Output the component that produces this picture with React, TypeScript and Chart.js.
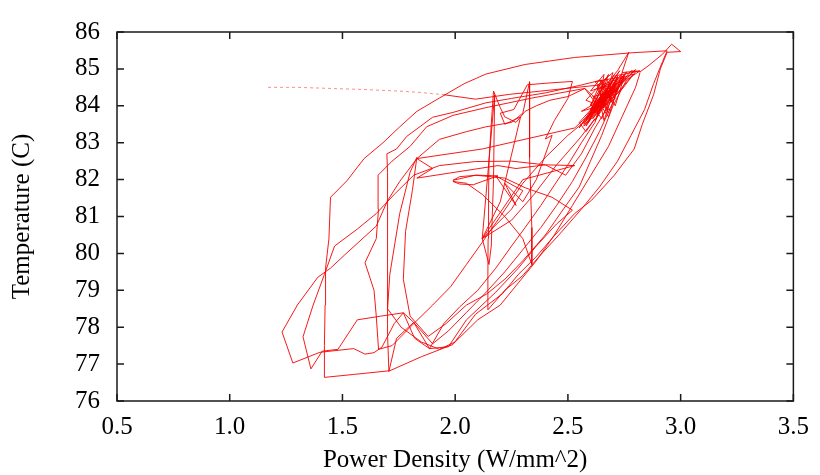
import { useEffect, useRef } from 'react';
import { Chart, registerables } from 'chart.js';

Chart.register(...registerables);

// Faint dotted lead-in trace
const trail: [number, number][] = [
  [1.17, 84.5], [1.3, 84.5], [1.45, 84.47], [1.6, 84.44], [1.75, 84.4], [1.85, 84.36], [1.95, 84.3],
];

// Main trace, in sweeps (power density W/mm^2, temperature C)
const sweep1: [number, number][] = [
  [1.95, 84.3], [2.09, 84.18], [2.24, 84.31], [2.46, 84.45], [2.65, 84.57], [2.79, 84.86],
  [2.7, 84.2], [2.76, 84.92], [2.64, 83.95], [2.69, 84.62], [2.6, 83.75], [2.73, 84.55], [2.66, 84.1],
  [2.8, 84.98], [2.63, 84.0], [2.71, 84.78], [2.58, 83.62], [2.67, 84.42], [2.62, 83.55],
  [2.56, 83.0], [2.5, 82.4], [2.44, 81.85], [2.38, 81.3], [2.31, 80.7], [2.25, 80.2], [2.18, 79.6],
  [2.1, 79.0], [2.02, 78.55], [1.95, 78.1], [1.886, 77.42],
];
const sweep2: [number, number][] = [
  [1.82, 77.7], [1.77, 78.39], [1.67, 78.3], [1.566, 78.2], [1.48, 77.4], [1.41, 77.35], [1.36, 76.87],
  [1.325, 77.74], [1.37, 78.6], [1.42, 79.43], [1.465, 80.2], [1.566, 80.66], [1.65, 81.08], [1.73, 81.6],
  [1.816, 82.12], [1.93, 82.38], [2.09, 82.49], [2.25, 82.5], [2.4, 82.4], [2.49, 82.12],
  [2.56, 82.7], [2.62, 83.4], [2.68, 84.0], [2.74, 84.7],
  [2.62, 83.85], [2.7, 84.7], [2.59, 83.55], [2.66, 84.35], [2.55, 83.4], [2.63, 84.15], [2.68, 83.7],
  [2.74, 84.88], [2.64, 84.05], [2.7, 84.45], [2.61, 83.65], [2.78, 84.95], [2.82, 84.92],
];
const sweep3: [number, number][] = [
  [2.86, 85.1], [2.92, 85.4], [2.96, 85.67], [3.0, 85.47], [2.94, 85.45], [2.91, 85.0], [2.88, 84.3],
  [2.83, 83.5], [2.794, 82.83], [2.706, 82.12], [2.605, 81.44], [2.53, 81.08], [2.44, 80.48],
  [2.355, 79.88], [2.28, 79.43], [2.21, 78.91], [2.09, 78.35], [1.99, 77.53],
  [1.85, 77.2], [1.71, 76.82], [1.55, 76.72], [1.42, 76.64],
  [1.42, 77.5], [1.423, 78.6], [1.425, 79.6], [1.44, 80.4], [1.447, 81.52],
  [1.52, 81.97], [1.596, 82.57], [1.68, 83.0], [1.754, 83.43], [1.83, 83.85], [1.93, 84.21],
  [2.04, 84.6], [2.136, 84.86], [2.31, 85.12], [2.53, 85.31], [2.79, 85.44], [2.94, 85.49],
];
const sweep4: [number, number][] = [
  [2.92, 85.2], [2.88, 84.6], [2.84, 83.9], [2.78, 83.2], [2.72, 82.5], [2.64, 81.8], [2.56, 81.2],
  [2.46, 80.5], [2.37, 79.9], [2.3, 79.4], [2.22, 79.0], [2.145, 78.47],
  [2.145, 79.4], [2.146, 80.4], [2.148, 81.5], [2.15, 82.5], [2.16, 83.5], [2.17, 84.4],
  [2.2, 83.95], [2.22, 83.7], [2.27, 83.55], [2.31, 83.85], [2.36, 84.0], [2.42, 84.15], [2.5, 84.25],
  [2.575, 84.47],
  [2.66, 84.0], [2.72, 84.8], [2.63, 83.7], [2.69, 84.5], [2.57, 83.5], [2.65, 84.3], [2.6, 83.8], [2.75, 84.85],
];
const sweep5: [number, number][] = [
  [2.7, 84.1], [2.64, 83.3], [2.58, 82.6], [2.52, 81.95], [2.45, 81.3], [2.38, 80.7], [2.3, 80.1],
  [2.22, 79.5], [2.13, 78.9], [2.05, 78.4], [1.97, 77.9], [1.9, 77.55],
  [1.816, 78.13], [1.77, 78.39], [1.73, 78.1], [1.675, 77.46], [1.64, 77.31], [1.6, 77.27], [1.55, 77.42],
  [1.4, 77.32], [1.28, 77.03], [1.232, 77.87], [1.3, 78.6], [1.39, 79.35], [1.447, 79.6], [1.51, 79.96],
  [1.65, 80.74], [1.7, 81.43], [1.754, 81.95], [1.83, 82.57], [1.93, 83.09], [2.05, 83.3], [2.136, 83.43],
  [2.25, 83.55],
];
const sweep6: [number, number][] = [
  [2.3, 83.8], [2.33, 84.65], [2.33, 83.6], [2.33, 82.6], [2.335, 81.6], [2.34, 80.7], [2.34, 79.7],
  [2.3, 80.4], [2.22, 81.0], [2.12, 81.6], [2.05, 81.9],
  [1.99, 81.95], [2.02, 81.88], [2.08, 81.86], [2.12, 81.95], [2.19, 82.1], [2.1, 82.12], [2.02, 82.08],
  [1.99, 81.98], [2.09, 82.12], [2.22, 82.04], [2.31, 81.78], [2.43, 81.52], [2.52, 81.17],
  [2.45, 80.8], [2.36, 80.2], [2.28, 79.6], [2.18, 78.95], [2.05, 78.2], [1.97, 77.47], [1.886, 77.42],
  [1.816, 78.13], [1.74, 77.7], [1.706, 76.8], [1.7, 77.8], [1.7, 79.0], [1.7, 80.2], [1.7, 81.4],
  [1.7, 82.2], [1.697, 82.7], [1.74, 82.83], [1.785, 83.17], [1.9, 83.69], [1.99, 83.82], [2.136, 84.08],
  [2.25, 84.2], [2.4, 84.35], [2.55, 84.55], [2.65, 84.7],
];
const sweep7: [number, number][] = [
  [2.6, 84.0], [2.68, 84.85], [2.62, 83.8], [2.71, 84.6], [2.58, 83.45], [2.64, 84.2], [2.66, 83.6],
  [2.72, 84.75], [2.6, 83.7],
  [2.5, 83.2], [2.4, 82.6], [2.3, 81.9], [2.2, 81.0], [2.12, 80.3], [2.05, 79.7], [1.98, 79.1],
  [1.9, 78.6], [1.8, 78.0], [1.72, 77.5], [1.66, 77.4],
  [1.65, 78.3], [1.64, 79.0], [1.6, 79.75], [1.65, 80.4], [1.66, 81.2], [1.658, 82.12], [1.72, 82.5],
  [1.8, 82.9], [1.873, 83.43], [1.99, 83.74], [2.136, 83.95], [2.34, 84.21], [2.575, 84.47],
];
const sweep8: [number, number][] = [
  [2.62, 84.1], [2.68, 84.3], [2.6, 83.9], [2.66, 84.55], [2.7, 84.05], [2.64, 84.7], [2.72, 84.4],
  [2.61, 84.25], [2.69, 83.85], [2.63, 84.45], [2.74, 84.65], [2.66, 83.95], [2.58, 84.15], [2.67, 84.75],
  [2.71, 84.2], [2.59, 83.7], [2.65, 84.3], [2.73, 84.95], [2.68, 84.5], [2.62, 83.6], [2.7, 84.35],
  [2.56, 83.85], [2.64, 84.0], [2.76, 84.75], [2.69, 84.6], [2.6, 84.4], [2.66, 84.85], [2.63, 83.75],
  [2.71, 84.55], [2.57, 83.45], [2.65, 83.95], [2.74, 84.45], [2.8, 84.92], [2.7, 84.8], [2.67, 84.15],
  [2.61, 83.95], [2.55, 83.55], [2.58, 83.3], [2.62, 83.65],
];
const sweep9: [number, number][] = [
  [2.55, 83.1], [2.45, 82.4], [2.35, 81.6], [2.25, 80.9], [2.12, 80.4], [2.175, 84.3], [2.17, 82.0],
  [2.16, 80.2], [2.15, 79.7], [2.12, 80.4], [2.2, 81.4], [2.29, 83.7], [2.22, 83.5], [2.2, 83.8],
  [2.26, 83.9], [2.32, 84.57], [2.42, 84.62], [2.52, 84.66], [2.5, 84.2], [2.44, 83.6], [2.4, 83.1],
  [2.43, 83.2], [2.36, 82.0], [2.3, 81.4], [2.22, 81.9], [2.27, 81.3], [2.18, 82.1], [2.3, 81.7],
  [2.25, 81.2], [2.12, 80.4], [2.3, 82.0], [2.53, 82.38], [2.4, 82.4], [2.27, 82.3], [2.19, 82.38],
  [1.83, 82.04], [1.9, 82.3], [1.83, 82.57], [2.12, 82.83], [2.53, 83.4], [2.6, 83.8],
];
const sweep10: [number, number][] = [
  [2.66, 84.4], [2.72, 84.6], [2.64, 84.2], [2.68, 83.8], [2.63, 84.55], [2.7, 84.9], [2.67, 84.35],
  [2.6, 84.05], [2.65, 83.65], [2.69, 84.25], [2.62, 84.65], [2.75, 84.8], [2.71, 84.0], [2.66, 84.6],
  [2.6, 83.85], [2.64, 84.35], [2.72, 84.95], [2.77, 85.45], [2.74, 84.9], [2.82, 84.95], [2.76, 84.7],
  [2.7, 84.0], [2.65, 83.2], [2.6, 82.5], [2.55, 81.8], [2.48, 81.2], [2.4, 80.5], [2.3, 79.8],
  [2.22, 79.3], [2.14, 78.9], [2.05, 78.6], [1.96, 78.1], [1.88, 77.75], [1.8, 78.3], [1.77, 79.3],
  [1.78, 80.6], [1.81, 81.7], [1.83, 82.6], [1.8, 82.2], [1.754, 81.08], [1.71, 79.43], [1.7, 78.5],
  [1.76, 78.0], [1.85, 77.6], [1.93, 77.4],
  [2.0, 77.6], [2.1, 78.2], [2.2, 78.6], [2.28, 79.2], [2.36, 79.8], [2.44, 80.5], [2.52, 81.3],
  [2.6, 82.1], [2.68, 82.9], [2.74, 83.7], [2.8, 84.5], [2.82, 84.9],
];

const trace = [
  ...sweep1, ...sweep2, ...sweep3, ...sweep4, ...sweep5,
  ...sweep6, ...sweep7, ...sweep8, ...sweep9, ...sweep10,
];

const xLabel = 'Power Density (W/mm^2)';
const yLabel = 'Temperature (C)';

const serif = '"Liberation Serif", "Times New Roman", Times, serif';

const framePlugin = {
  id: 'gnuplotFrame',
  afterDatasetsDraw(chart: any) {
    const { ctx, chartArea, scales } = chart;
    const { left, right, top, bottom } = chartArea;
    const tl = 7;
    ctx.save();
    ctx.strokeStyle = '#1a1a1a';
    ctx.lineWidth = 1.5;
    ctx.strokeRect(left, top, right - left, bottom - top);
    ctx.beginPath();
    scales.x.ticks.forEach((t: any) => {
      const px = scales.x.getPixelForValue(t.value);
      ctx.moveTo(px, bottom);
      ctx.lineTo(px, bottom - tl);
      ctx.moveTo(px, top);
      ctx.lineTo(px, top + tl);
    });
    scales.y.ticks.forEach((t: any) => {
      const py = scales.y.getPixelForValue(t.value);
      ctx.moveTo(left, py);
      ctx.lineTo(left + tl, py);
      ctx.moveTo(right, py);
      ctx.lineTo(right - tl, py);
    });
    ctx.stroke();
    ctx.restore();
  },
};

export default function App() {
  const ref = useRef<HTMLCanvasElement | null>(null);
  useEffect(() => {
    if (!ref.current) return;
    const chart = new Chart(ref.current, {
      type: 'scatter',
      data: {
        datasets: [
          {
            data: trail.map(([x, y]) => ({ x, y })),
            showLine: true,
            borderColor: 'rgba(255,0,0,0.45)',
            borderWidth: 1,
            borderDash: [3, 3],
            pointRadius: 0,
          },
          {
            data: trace.map(([x, y]) => ({ x, y })),
            showLine: true,
            borderColor: 'rgba(245,0,0,0.9)',
            borderWidth: 1,
            pointRadius: 0,
          },
        ],
      },
      options: {
        animation: false,
        responsive: false,
        layout: { padding: { left: 7, top: 18, right: 19, bottom: 0 } },
        plugins: { legend: { display: false }, tooltip: { enabled: false } },
        scales: {
          x: {
            type: 'linear',
            min: 0.5,
            max: 3.5,
            grid: { display: false, drawTicks: false },
            border: { display: false },
            ticks: { stepSize: 0.5, padding: 11, color: '#000', maxRotation: 0, font: { family: serif, size: 25 } },
            title: { display: true, text: xLabel, color: '#000', padding: 0, font: { family: serif, size: 25 } },
            afterFit: (s: any) => { s.height = 74; },
          },
          y: {
            type: 'linear',
            min: 76,
            max: 86,
            grid: { display: false, drawTicks: false },
            border: { display: false },
            ticks: { stepSize: 1, padding: 17, color: '#000', font: { family: serif, size: 25 } },
            title: { display: true, text: yLabel, color: '#000', padding: 0, font: { family: serif, size: 25 } },
            afterFit: (s: any) => { s.width = 110; },
          },
        },
      },
      plugins: [framePlugin],
    });
    return () => chart.destroy();
  }, []);
  return (
    <div style={{ position: 'absolute', left: 0, top: 0, width: 820, height: 475, background: '#fff' }}>
      <canvas ref={ref} width={820} height={475} style={{ display: 'block' }} />
    </div>
  );
}
